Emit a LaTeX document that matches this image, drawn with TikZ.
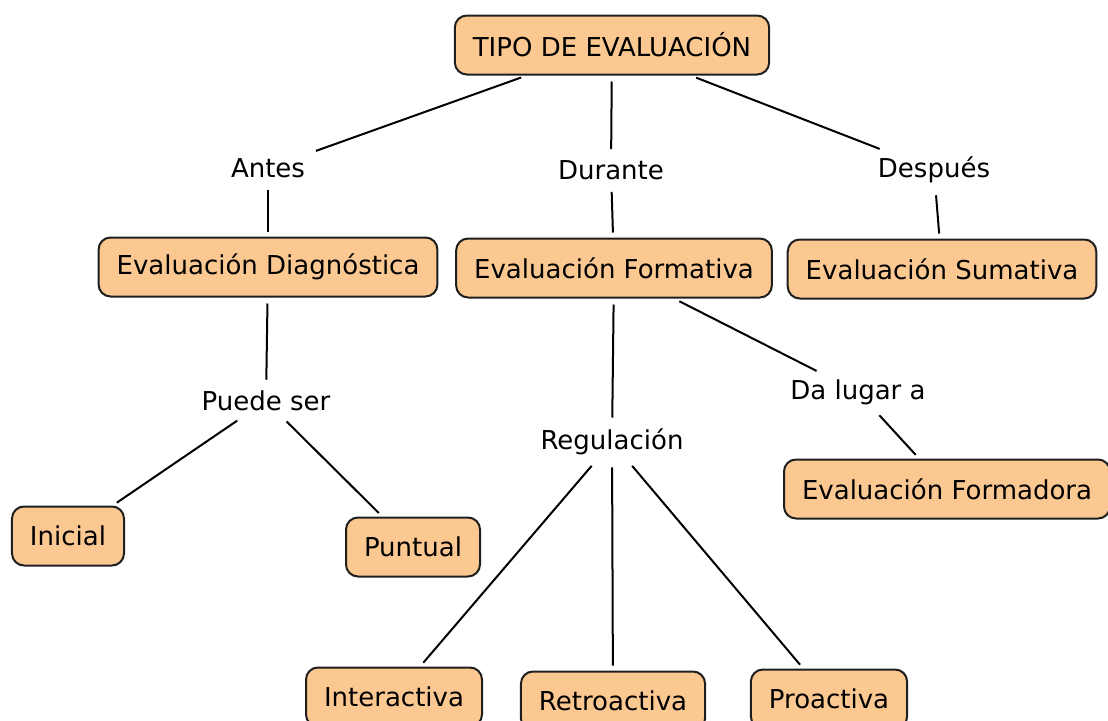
\documentclass[tikz,border=0pt]{standalone}
\usepackage{fontspec}
\setmainfont{DejaVu Sans}
\usepackage{tikz}

\definecolor{conceptfill}{RGB}{252,200,146}
\definecolor{conceptdraw}{RGB}{30,30,30}

\tikzset{
    concept/.style={draw=conceptdraw, fill=conceptfill, line width=2pt, rounded corners=12pt,
        minimum height=59pt, inner xsep=18pt, font=\fontsize{26}{30}\selectfont},
    linkword/.style={inner sep=6pt, font=\fontsize{26}{30}\selectfont},
    link/.style={line width=2pt, shorten <=6pt, shorten >=5pt}
}

\begin{document}
\begin{tikzpicture}[x=1pt, y=-1pt]
    	\useasboundingbox (0, 0) rectangle (1108, 720);
    	% Concepts:
    	\node[concept] (tipo) at (612, 45) {TIPO DE EVALUACIÓN};
    	\node[concept] (diag) at (268, 267) {Evaluación Diagnóstica};
    	\node[concept] (form) at (614, 268) {Evaluación Formativa};
    	\node[concept] (suma) at (942, 269) {Evaluación Sumativa};
    	\node[concept] (inic) at (68, 536) {Inicial};
    	\node[concept] (punt) at (413, 547) {Puntual};
    	\node[concept] (fdor) at (947, 489) {Evaluación Formadora};
    	\node[concept] (inte) at (394, 697) {Interactiva};
    	\node[concept] (retr) at (613, 701) {Retroactiva};
    	\node[concept] (proa) at (829, 699) {Proactiva};
    	% Linking words:
    	\node[linkword] (antes) at (268, 168) {Antes};
    	\node[linkword] (durante) at (611, 170) {Durante};
    	\node[linkword] (despues) at (934, 170) {Después};
    	\node[linkword] (puede) at (266, 401) {Puede ser};
    	\node[linkword] (regul) at (612, 442) {Regulación};
    	\node[linkword] (dalugar) at (858, 392) {Da lugar a};
    	% Links:
    	\draw[link] (tipo) -- (antes);
    	\draw[link] (antes) -- (diag);
    	\draw[link] (tipo) -- (durante);
    	\draw[link] (durante) -- (form);
    	\draw[link] (tipo) -- (despues);
    	\draw[link] (despues) -- (suma);
    	\draw[link] (diag) -- (puede);
    	\draw[link] (puede) -- (inic);
    	\draw[link] (puede) -- (punt);
    	\draw[link] (form) -- (regul);
    	\draw[link] (form) -- (dalugar);
    	\draw[link] (dalugar) -- (fdor);
    	\draw[link] (regul) -- (inte);
    	\draw[link] (regul) -- (retr);
    	\draw[link] (regul) -- (proa);
    \end{tikzpicture}
\end{document}
